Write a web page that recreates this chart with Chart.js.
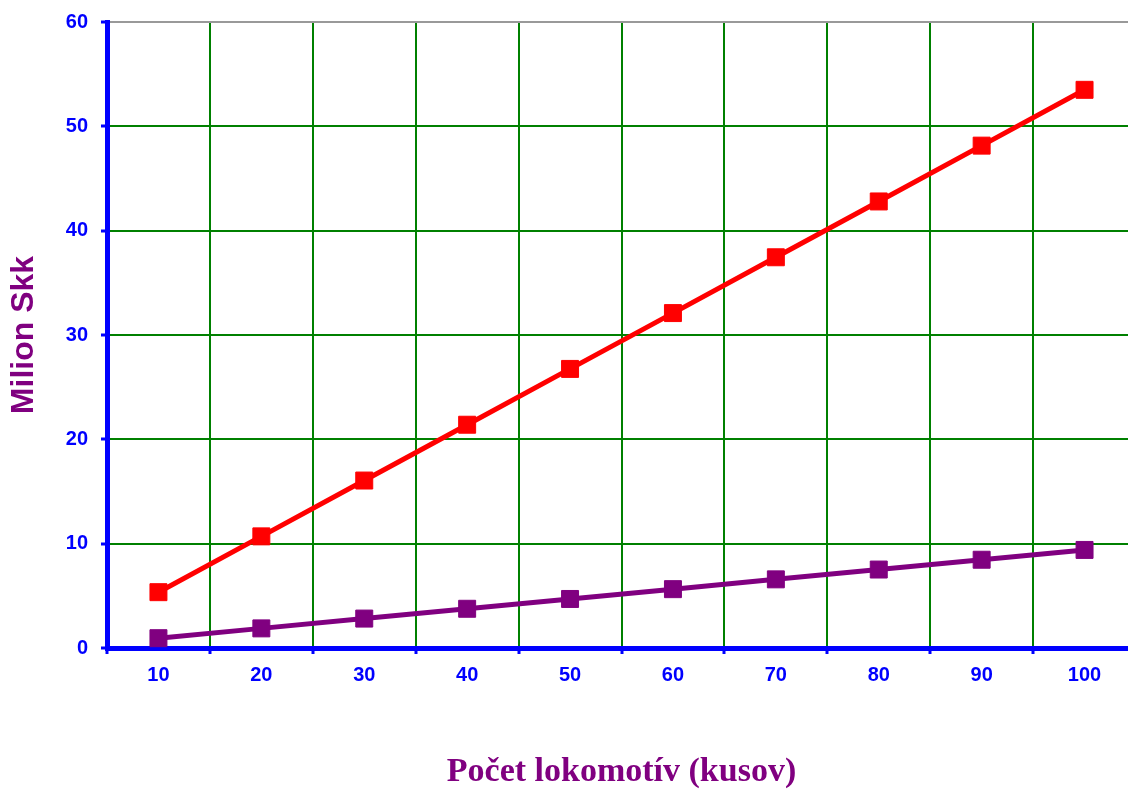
<!DOCTYPE html>
<html>
<head>
<meta charset="utf-8">
<title>Počet lokomotív</title>
<script src="https://cdn.jsdelivr.net/npm/chart.js@4/dist/chart.umd.min.js"></script>
<style>
    html, body { margin: 0; padding: 0; background: #fff; overflow: hidden; }
    /* plocha grafu pokračuje kúsok za pravý okraj okna */
    #wrap { width: 1128px; height: 789px; overflow: hidden; position: relative; }
    #inner { width: 1149px; height: 789px; position: absolute; left: 0; top: 0; }
</style>
</head>
<body>
<div id="wrap"><div id="inner"><canvas id="chart" width="1149" height="789"></canvas></div></div>
<script>
// údaje z grafu
const categories = ['10', '20', '30', '40', '50', '60', '70', '80', '90', '100'];
const redSeries = [5.35, 10.7, 16.05, 21.4, 26.75, 32.1, 37.45, 42.8, 48.15, 53.5];
const purpleSeries = [0.94, 1.88, 2.82, 3.76, 4.7, 5.64, 6.58, 7.52, 8.46, 9.4];
const yMin = 0;
const yMax = 60;
const yStep = 10;

const BLUE = '#0000ff';
const GREEN = '#008000';
const PURPLE = '#800080';
const RED = '#ff0000';
const sansFont = 'Arial, "Liberation Sans", sans-serif';
const serifFont = '"Times New Roman", "Liberation Serif", serif';

// bez extra okrajov pre popisky osí
function noPadding(scale) {
    scale.paddingTop = 0;
    scale.paddingBottom = 0;
    scale.paddingLeft = 0;
    scale.paddingRight = 0;
}

const ctx = document.getElementById('chart');

const chart = new Chart(ctx, {
    type: 'line',
    data: {
        labels: categories,
        datasets: [{
            label: 'red',
            data: redSeries,
            borderColor: RED,
            backgroundColor: RED,
            borderWidth: 5,
            pointStyle: 'rect',
            pointRadius: 12,
            pointBorderWidth: 1,
            pointBackgroundColor: RED,
            pointBorderColor: RED,
            tension: 0
        }, {
            label: 'purple',
            data: purpleSeries,
            borderColor: PURPLE,
            backgroundColor: PURPLE,
            borderWidth: 5,
            pointStyle: 'rect',
            pointRadius: 12,
            pointBorderWidth: 1,
            pointBackgroundColor: PURPLE,
            pointBorderColor: PURPLE,
            tension: 0
        }]
    },
    options: {
        responsive: false,
        animation: false,
        devicePixelRatio: 1,
        layout: {
            padding: { left: 0, right: 4, top: 22, bottom: 0 }
        },
        plugins: {
            legend: { display: false },
            tooltip: { enabled: false }
        },
        scales: {
            x: {
                offset: true,
                grid: {
                    offset: true,
                    color: GREEN,
                    lineWidth: 2,
                    tickColor: BLUE,
                    tickWidth: 3,
                    tickLength: 6
                },
                border: { color: BLUE, width: 5 },
                ticks: {
                    color: BLUE,
                    padding: 9,
                    maxRotation: 0,
                    font: { family: sansFont, size: 20, weight: 'bold' }
                },
                title: {
                    display: true,
                    text: 'Počet lokomotív (kusov)',
                    color: PURPLE,
                    padding: { top: 0, bottom: 0 },
                    font: { family: serifFont, size: 34, weight: 'bold', lineHeight: 1 }
                },
                afterFit: (scale) => {
                    scale.height = 141;
                    noPadding(scale);
                }
            },
            y: {
                min: yMin,
                max: yMax,
                grid: {
                    color: (c) => (c.tick && c.tick.value === yMax ? '#999999' : GREEN),
                    lineWidth: 2,
                    tickColor: BLUE,
                    tickWidth: 3,
                    tickLength: 6
                },
                border: { color: BLUE, width: 5 },
                ticks: {
                    stepSize: yStep,
                    color: BLUE,
                    padding: 13,
                    font: { family: sansFont, size: 20, weight: 'bold' }
                },
                title: {
                    display: true,
                    text: 'Milion Skk',
                    color: PURPLE,
                    padding: { top: 8, bottom: 0 },
                    font: { family: sansFont, size: 32, weight: 'bold', lineHeight: 1 }
                },
                afterFit: (scale) => {
                    scale.width = 107;
                    noPadding(scale);
                }
            }
        }
    }
});
</script>
</body>
</html>
